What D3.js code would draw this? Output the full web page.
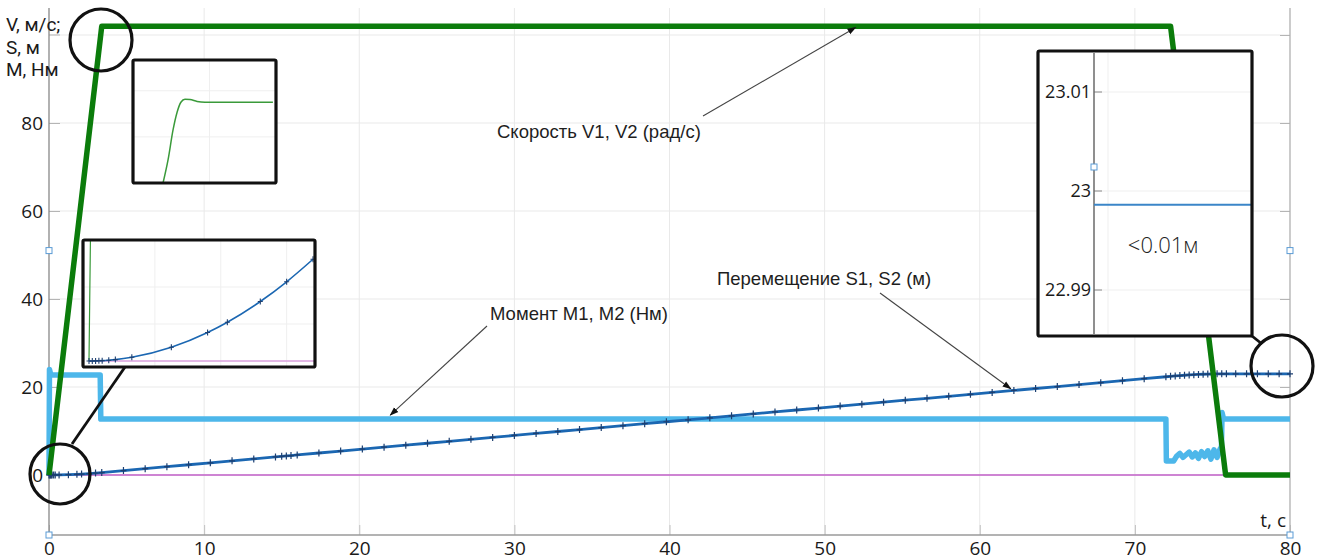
<!DOCTYPE html>
<html><head><meta charset="utf-8">
<script src="https://cdn.jsdelivr.net/npm/d3@7"></script>
<style>body{margin:0;background:#fff}svg{display:block}</style>
</head><body><svg id="c" width="1323" height="560"></svg>
<script>
// ---------- data ----------
const xTicks = [0, 10, 20, 30, 40, 50, 60, 70, 80];
const yTicks = [0, 20, 40, 60, 80];
const yGrid = [0, 20, 40, 60, 80, 100];
const yTitle = ["V, м/с;", "S, м", "М, Нм"];
const xTitle = "t, с";

// speed V1, V2 (rad/s)
const vT = [0, 3.4, 72.3, 75.85, 80];
const vV = [0, 102, 102, 0, 0];

// moment M1 (light blue)
const mT = [0, 0.03, 0.12, 3.3, 3.34, 72.0, 72.03, 72.5, 72.7, 72.9, 73.1, 73.3, 73.5, 73.7, 73.9, 74.1, 74.3, 74.5, 74.7, 74.9, 75.1, 75.3, 75.5, 75.58, 75.62, 75.72, 80];
const mV = [0, 24, 22.7, 22.7, 12.7, 12.7, 3.2, 3.2, 4.3, 4.9, 4.0, 4.6, 5.2, 4.1, 5.0, 3.8, 5.3, 4.2, 5.5, 3.6, 5.7, 4.0, 6.0, 6.0, 14.2, 12.7, 12.7];

// moment M2 (magenta)
const m2T = [0, 80];
const m2V = [0, 0];

// displacement S1, S2 (m)
const sT = [0, 0.05, 0.1, 0.15, 0.2, 0.3, 0.4, 0.65, 1.25, 1.8, 2.1, 2.6, 3.0, 3.4,
  4.8, 6.2, 7.6, 9.0, 10.4, 11.8, 13.2, 14.6, 15.0, 15.3, 15.6, 16.0, 17.4, 18.8, 20.2, 21.6,
  23.0, 24.4, 25.8, 27.2, 28.6, 30.0, 31.4, 32.8, 34.2, 35.6, 37.0, 38.4, 39.8, 41.2, 42.6,
  44.0, 45.4, 46.8, 48.2, 49.6, 51.0, 52.4, 53.8, 55.2, 56.6, 58.0, 59.4, 60.8, 62.2, 63.6,
  65.0, 66.4, 67.8, 69.2, 70.6, 72.0, 72.3, 72.6, 72.9, 73.2, 73.5, 73.8, 74.1, 74.4, 74.7,
  75.0, 75.3, 75.6, 75.9, 76.5, 77.2, 77.9, 78.6, 79.3, 80];
const sV = [0, 0.0001, 0.0005, 0.0011, 0.0019, 0.0043, 0.0076, 0.0201, 0.0743, 0.1541, 0.2098, 0.3216, 0.4282, 0.55,
  0.994, 1.439, 1.883, 2.327, 2.772, 3.216, 3.661, 4.105, 4.232, 4.327, 4.422, 4.549, 4.993, 5.438, 5.882, 6.326,
  6.771, 7.215, 7.660, 8.104, 8.548, 8.993, 9.437, 9.882, 10.326, 10.770, 11.215, 11.659, 12.104, 12.548, 12.992,
  13.437, 13.881, 14.326, 14.770, 15.214, 15.659, 16.103, 16.548, 16.992, 17.436, 17.881, 18.325, 18.770, 19.214, 19.658,
  20.103, 20.547, 20.992, 21.436, 21.880, 22.325, 22.420, 22.511, 22.595, 22.670, 22.737, 22.797, 22.849, 22.892, 22.928,
  22.955, 22.982, 22.994, 22.9986, 22.9986, 22.9986, 22.9986, 22.9986, 22.9986, 22.9986];

// inset 1: zoom of speed overshoot
const i1T = [3.326, 3.347, 3.368, 3.385, 3.401, 3.418, 3.439, 3.469, 3.502, 3.787];
const i1V = [101.0, 101.30, 101.69, 101.92, 102.05, 102.09, 102.086, 102.06, 102.05, 102.05];

// inset 3 ticks
const i3Ticks = [22.99, 23, 23.01];
const i3Labels = ["22.99", "23", "23.01"];

const labels = {
  speed: "Скорость V1, V2 (рад/с)",
  moment: "Момент М1, М2 (Нм)",
  disp: "Перемещение S1, S2 (м)",
  delta: "<0.01м"
};

// ---------- layout ----------
const svg = d3.select("#c");
const P = {l: 49, r: 1290, t: 5, b: 535};
const x = d3.scaleLinear().domain([0, 80]).range([P.l, P.r]);
const y = d3.scaleLinear().domain([-13.64, 106.82]).range([P.b, P.t]);
const zip = (a, b) => a.map((t, i) => [t, b[i]]);
const AX_FONT = "'Open Sans', 'DejaVu Sans', sans-serif";
const TI_FONT = "Roboto, 'Open Sans', sans-serif";
const AN_FONT = "'Liberation Sans', Arial, sans-serif";

const defs = svg.append("defs");
defs.append("marker").attr("id", "arr").attr("viewBox", "0 0 10 10")
  .attr("refX", 9).attr("refY", 5).attr("markerWidth", 9).attr("markerHeight", 9)
  .attr("markerUnits", "userSpaceOnUse").attr("orient", "auto")
  .append("path").attr("d", "M0,1.5L10,5L0,8.5Z").attr("fill", "#111");

// grid
svg.append("g").selectAll("line").data(xTicks.filter(d => d > 0 && d < 80)).join("line")
  .attr("x1", d => x(d)).attr("x2", d => x(d)).attr("y1", P.t + 3).attr("y2", P.b)
  .attr("stroke", "#e9e9e9").attr("stroke-width", 1);
svg.append("g").selectAll("line").data(yGrid).join("line")
  .attr("x1", P.l).attr("x2", P.r).attr("y1", d => y(d)).attr("y2", d => y(d))
  .attr("stroke", "#e9e9e9").attr("stroke-width", 1);

// axes
const gl = svg.append("g").attr("transform", `translate(${P.l},0)`)
  .call(d3.axisLeft(y).tickValues(yTicks).tickSize(-11).tickPadding(6).tickFormat(d3.format("d")));
gl.select(".domain").remove();
gl.selectAll(".tick line").attr("stroke", "#b5b5b5");
gl.selectAll(".tick text").attr("font-family", AX_FONT).attr("font-size", 19).attr("fill", "#1a1a1a");
svg.append("line").attr("x1", P.l).attr("x2", P.l + 11).attr("y1", y(100)).attr("y2", y(100)).attr("stroke", "#b5b5b5");

const gb = svg.append("g").attr("transform", `translate(0,${P.b})`)
  .call(d3.axisBottom(x).tickValues(xTicks).tickSize(-10).tickPadding(6).tickFormat(d3.format("d")));
gb.select(".domain").remove();
gb.selectAll(".tick line").attr("stroke", "#c0c0c0");
gb.selectAll(".tick text").attr("font-family", AX_FONT).attr("font-size", 19).attr("fill", "#1a1a1a");

const gr = svg.append("g").attr("transform", `translate(${P.r},0)`)
  .call(d3.axisRight(y).tickValues(yGrid).tickSize(-10).tickFormat(""));
gr.select(".domain").remove();
gr.selectAll(".tick line").attr("stroke", "#b5b5b5");

svg.append("line").attr("x1", P.l).attr("x2", P.l).attr("y1", P.t + 3).attr("y2", P.b).attr("stroke", "#888").attr("stroke-width", 1.3);
svg.append("line").attr("x1", P.r).attr("x2", P.r).attr("y1", P.t + 3).attr("y2", P.b).attr("stroke", "#b0b0b0").attr("stroke-width", 1.3);
svg.append("line").attr("x1", P.l).attr("x2", P.r).attr("y1", P.b).attr("y2", P.b).attr("stroke", "#9a9a9a").attr("stroke-width", 1.6);

// titles
svg.append("g").selectAll("text").data(yTitle).join("text")
  .attr("x", 6).attr("y", (d, i) => 31 + i * 22.5).text(d => d)
  .attr("font-family", TI_FONT).attr("font-size", 19).attr("fill", "#1a1a1a");
svg.append("text").attr("x", P.r - 4).attr("y", P.b - 8).attr("text-anchor", "end").text(xTitle)
  .attr("font-family", AX_FONT).attr("font-size", 19).attr("fill", "#1a1a1a");

// series
const line = d3.line().x(d => x(d[0])).y(d => y(d[1]));
svg.append("path").attr("d", line(zip(m2T, m2V))).attr("fill", "none").attr("stroke", "#c25fc8").attr("stroke-width", 1.6);
svg.append("path").attr("d", line(zip(mT, mV))).attr("fill", "none").attr("stroke", "#4db7ea").attr("stroke-width", 5.5).attr("stroke-linejoin", "round");
svg.append("path").attr("d", line(zip(sT, sV))).attr("fill", "none").attr("stroke", "#1b67b2").attr("stroke-width", 2.8);
svg.append("g").selectAll("path").data(zip(sT, sV)).join("path")
  .attr("transform", d => `translate(${x(d[0])},${y(d[1])})`)
  .attr("d", "M-3,0H3M0,-3.5V3.5").attr("stroke", "#1d3f70").attr("stroke-width", 1.2);
svg.append("path").attr("d", line(zip(vT, vV))).attr("fill", "none").attr("stroke", "#0b7c0b").attr("stroke-width", 5.5).attr("stroke-linejoin", "round");

// annotations
const ann = svg.append("g");
function annot(tx, ty, text, x1, y1, x2, y2) {
  ann.append("text").attr("x", tx).attr("y", ty).text(text)
    .attr("font-family", AN_FONT).attr("font-size", 18.5).attr("fill", "#1e1e1e");
  ann.append("line").attr("x1", x1).attr("y1", y1).attr("x2", x2).attr("y2", y2)
    .attr("stroke", "#444").attr("stroke-width", 1.1).attr("marker-end", "url(#arr)");
}
annot(497, 138, labels.speed, 703, 116, x(52), y(101.7));
annot(490, 320, labels.moment, 487, 326, x(22), y(13.6));
annot(717, 285, labels.disp, 880, 293, x(62), y(19.6));

// ---------- insets ----------
function insetBox(id, bx, by, bw, bh) {
  defs.append("clipPath").attr("id", id).append("rect").attr("x", bx).attr("y", by).attr("width", bw).attr("height", bh);
  const g = svg.append("g");
  g.append("rect").attr("x", bx).attr("y", by).attr("width", bw).attr("height", bh).attr("fill", "#fff");
  const inner = g.append("g").attr("clip-path", `url(#${id})`);
  return {g, inner, frame: () => g.append("rect").attr("x", bx).attr("y", by).attr("width", bw).attr("height", bh)
    .attr("fill", "none").attr("stroke", "#111").attr("stroke-width", 3.2).attr("rx", 1.5)};
}

// inset 1: speed overshoot
{
  const B = insetBox("c1", 133, 60, 143, 123);
  const ix = d3.scaleLinear().domain([3.2, 3.8]).range([133, 276]);
  const iy = d3.scaleLinear().domain([101.0, 102.6]).range([183, 60]);
  [3.5].forEach(t => B.inner.append("line").attr("x1", ix(t) + 5).attr("x2", ix(t) + 5).attr("y1", 60).attr("y2", 183).attr("stroke", "#efefef"));
  [102.2, 101.6].forEach(v => B.inner.append("line").attr("x1", 133).attr("x2", 276).attr("y1", iy(v)).attr("y2", iy(v)).attr("stroke", "#efefef"));
  B.inner.append("path").attr("d", d3.line().x(d => ix(d[0])).y(d => iy(d[1])).curve(d3.curveMonotoneX)(zip(i1T, i1V)))
    .attr("fill", "none").attr("stroke", "#3a9a3a").attr("stroke-width", 1.5);
  B.frame();
}

// inset 2: displacement start
{
  const B = insetBox("c2", 83, 240, 232, 127);
  const ix = d3.scaleLinear().domain([0, 3.4]).range([89, 313]);
  const iy = d3.scaleLinear().domain([0, 0.6]).range([361, 250]);
  [1, 2, 3].forEach(t => B.inner.append("line").attr("x1", ix(t)).attr("x2", ix(t)).attr("y1", 240).attr("y2", 367).attr("stroke", "#efefef"));
  [0.2, 0.4].forEach(v => B.inner.append("line").attr("x1", 83).attr("x2", 315).attr("y1", iy(v)).attr("y2", iy(v)).attr("stroke", "#efefef"));
  const il = d3.line().x(d => ix(d[0])).y(d => iy(d[1]));
  B.inner.append("path").attr("d", il(zip(m2T, m2V))).attr("fill", "none").attr("stroke", "#d9a0dc").attr("stroke-width", 1.3);
  B.inner.append("path").attr("d", il(zip(vT, vV))).attr("fill", "none").attr("stroke", "#3a9a3a").attr("stroke-width", 1.2);
  const pts = zip(sT, sV).filter(d => d[0] <= 3.4);
  B.inner.append("path").attr("d", il.curve(d3.curveMonotoneX)(pts)).attr("fill", "none").attr("stroke", "#1b67b2").attr("stroke-width", 1.6);
  B.inner.append("g").selectAll("path").data(pts).join("path")
    .attr("transform", d => `translate(${ix(d[0])},${iy(d[1])})`)
    .attr("d", "M-2.5,0H2.5M0,-3V3").attr("stroke", "#1d3f70").attr("stroke-width", 1.1);
  B.frame();
}

// inset 3: final displacement
{
  const B = insetBox("c3", 1038, 51, 214, 285);
  const ix = d3.scaleLinear().domain([76.5, 80]).range([1094, 1252]);
  const iy = d3.scaleLinear().domain([23, 23.01]).range([191, 92]);
  B.inner.append("line").attr("x1", 1108).attr("x2", 1108).attr("y1", 53).attr("y2", 334).attr("stroke", "#efefef");
  i3Ticks.forEach(v => B.inner.append("line").attr("x1", 1094).attr("x2", 1252).attr("y1", iy(v)).attr("y2", iy(v)).attr("stroke", "#efefef"));
  i3Ticks.forEach(v => B.inner.append("line").attr("x1", 1094).attr("x2", 1102).attr("y1", iy(v)).attr("y2", iy(v)).attr("stroke", "#888"));
  B.inner.append("line").attr("x1", 1094).attr("x2", 1094).attr("y1", 53).attr("y2", 334).attr("stroke", "#6a6a6a").attr("stroke-width", 1.5);
  B.inner.selectAll("text.tk").data(i3Ticks).join("text").attr("class", "tk")
    .attr("x", 1091).attr("y", d => iy(d)).attr("dy", "0.36em").attr("text-anchor", "end")
    .text((d, i) => i3Labels[i]).attr("font-family", AX_FONT).attr("font-size", 18).attr("fill", "#1a1a1a");
  const pts = zip(sT, sV).filter(d => d[0] >= 76);
  B.inner.append("path").attr("d", d3.line().x(d => ix(d[0])).y(d => iy(d[1]))(pts))
    .attr("fill", "none").attr("stroke", "#3b86c8").attr("stroke-width", 2);
  B.inner.append("text").attr("x", 1163).attr("y", 253).attr("text-anchor", "middle").text(labels.delta)
    .attr("font-family", AX_FONT).attr("font-size", 22).attr("font-weight", 300).attr("fill", "#222");
  B.g.append("rect").attr("x", 1091).attr("y", 164).attr("width", 6).attr("height", 6)
    .attr("fill", "#fff").attr("stroke", "#5b9bd5").attr("stroke-width", 1);
  B.frame();
}

// circles and connectors
const circ = [[101, 40, 31], [60, 474, 30], [1282, 366, 31]];
svg.append("g").selectAll("circle").data(circ).join("circle")
  .attr("cx", d => d[0]).attr("cy", d => d[1]).attr("r", d => d[2])
  .attr("fill", "none").attr("stroke", "#111").attr("stroke-width", 3.2);
const conn = [[72, 444, 125, 367], [1252, 336, 1262, 344]];
svg.append("g").selectAll("line").data(conn).join("line")
  .attr("x1", d => d[0]).attr("y1", d => d[1]).attr("x2", d => d[2]).attr("y2", d => d[3])
  .attr("stroke", "#111").attr("stroke-width", 2.8);

// selection handles
const handles = [[P.l, 51], [P.l, -13.64], [P.r, 51], [P.r, -13.64]];
svg.append("g").selectAll("rect").data(handles).join("rect")
  .attr("x", d => d[0] - 3).attr("y", d => y(d[1]) - 3).attr("width", 6).attr("height", 6)
  .attr("fill", "#fff").attr("stroke", "#5b9bd5").attr("stroke-width", 1);
</script></body></html>
